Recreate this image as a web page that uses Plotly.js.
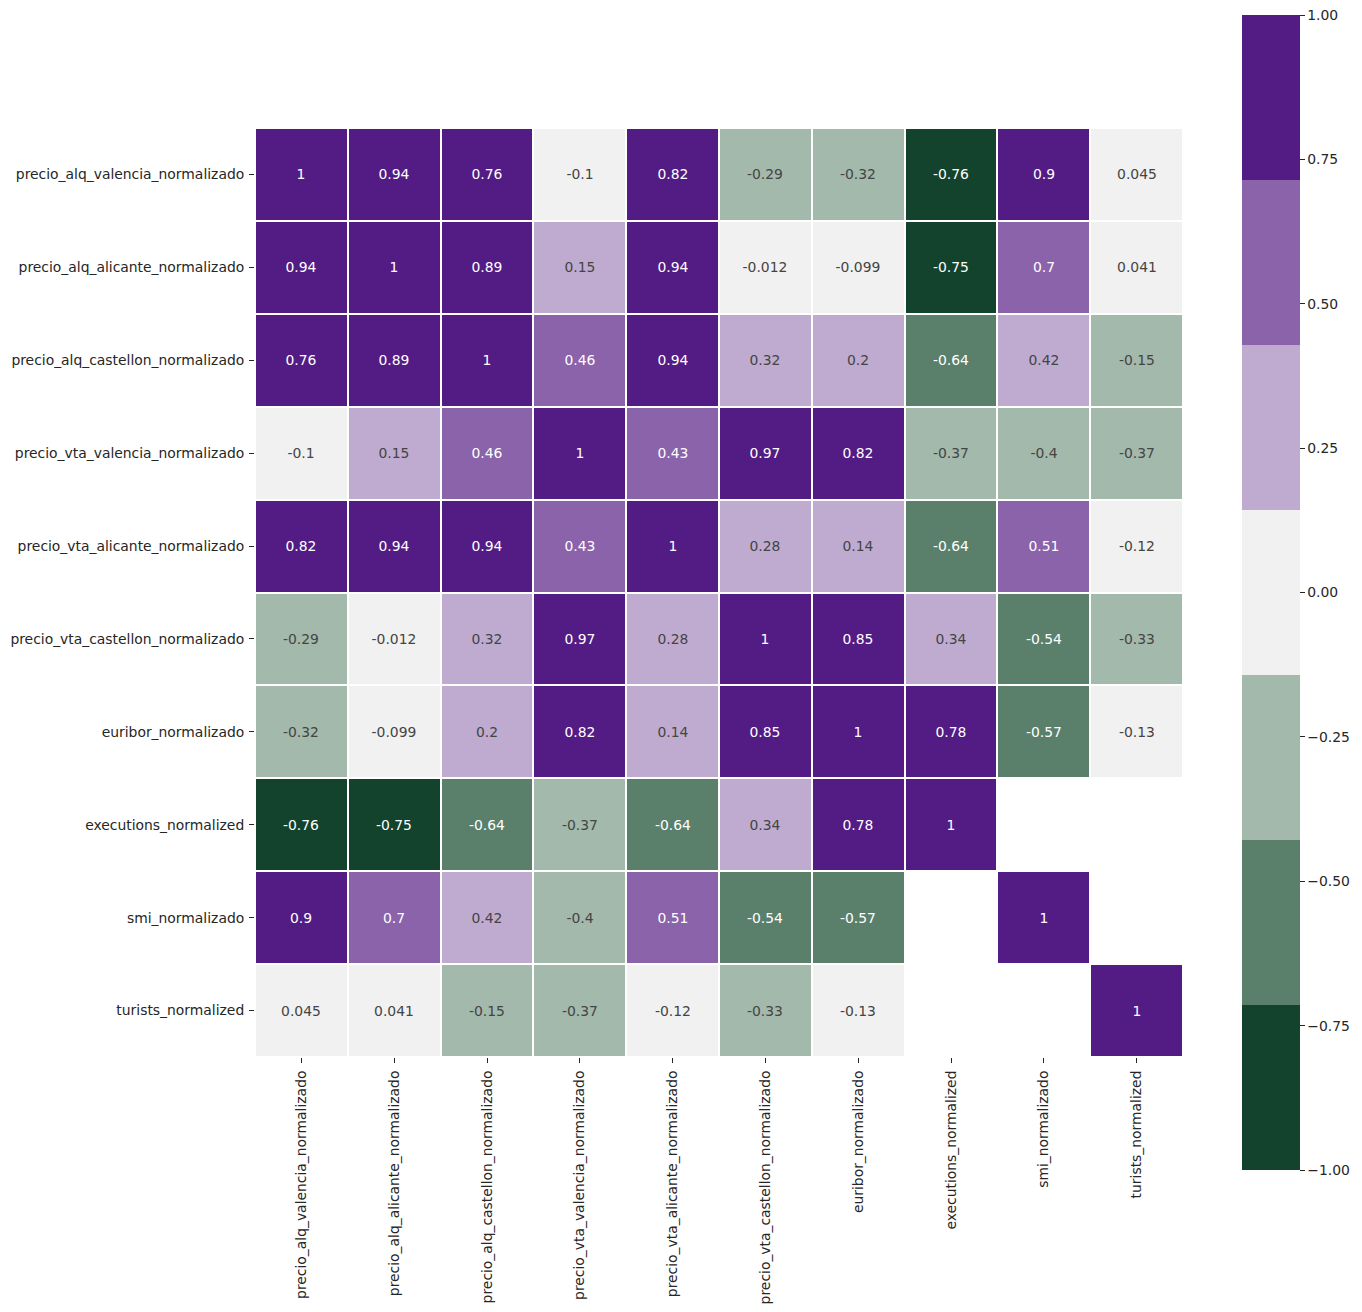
<!DOCTYPE html>
<html>
<head>
<meta charset="utf-8">
<script src="https://cdn.plot.ly/plotly-3.0.1.min.js"></script>
<style>html,body{margin:0;padding:0;background:#fff;}#chart{width:1362px;height:1312px;}</style>
</head>
<body>
<div id="chart"></div>
<script>
const labels = [
  "precio_alq_valencia_normalizado",
  "precio_alq_alicante_normalizado",
  "precio_alq_castellon_normalizado",
  "precio_vta_valencia_normalizado",
  "precio_vta_alicante_normalizado",
  "precio_vta_castellon_normalizado",
  "euribor_normalizado",
  "executions_normalized",
  "smi_normalizado",
  "turists_normalized"
];
const row_alq_valencia   = [1, 0.94, 0.76, -0.1, 0.82, -0.29, -0.32, -0.76, 0.9, 0.045];
const row_alq_alicante   = [0.94, 1, 0.89, 0.15, 0.94, -0.012, -0.099, -0.75, 0.7, 0.041];
const row_alq_castellon  = [0.76, 0.89, 1, 0.46, 0.94, 0.32, 0.2, -0.64, 0.42, -0.15];
const row_vta_valencia   = [-0.1, 0.15, 0.46, 1, 0.43, 0.97, 0.82, -0.37, -0.4, -0.37];
const row_vta_alicante   = [0.82, 0.94, 0.94, 0.43, 1, 0.28, 0.144, -0.64, 0.51, -0.12];
const row_vta_castellon  = [-0.29, -0.012, 0.32, 0.97, 0.28, 1, 0.85, 0.34, -0.54, -0.33];
const row_euribor        = [-0.32, -0.099, 0.2, 0.82, 0.144, 0.85, 1, 0.78, -0.57, -0.13];
const row_executions     = [-0.76, -0.75, -0.64, -0.37, -0.64, 0.34, 0.78, 1, null, null];
const row_smi            = [0.9, 0.7, 0.42, -0.4, 0.51, -0.54, -0.57, null, 1, null];
const row_turists        = [0.045, 0.041, -0.15, -0.37, -0.12, -0.33, -0.13, null, null, 1];
const matrix = [row_alq_valencia, row_alq_alicante, row_alq_castellon, row_vta_valencia,
  row_vta_alicante, row_vta_castellon, row_euribor, row_executions, row_smi, row_turists];

const binColors = ["#13432c", "#5a806c", "#a3b9ab", "#f1f1f1", "#bfabd0", "#8a63aa", "#531c84"];
const colorbarTicks = [-1, -0.75, -0.5, -0.25, 0, 0.25, 0.5, 0.75, 1];

const colorscale = [];
binColors.forEach((c, i) => {
  colorscale.push([i / binColors.length, c]);
  colorscale.push([(i + 1) / binColors.length, c]);
});

const font = {family: "DejaVu Sans, sans-serif", size: 13.9, color: "#262626"};

const trace = {
  type: "heatmap",
  x: labels,
  y: labels,
  z: matrix,
  zmin: -1,
  zmax: 1,
  colorscale: colorscale,
  xgap: 2,
  ygap: 2,
  texttemplate: "%{z:.2~g}",
  textfont: {family: "DejaVu Sans, sans-serif", size: 13.9},
  hoverongaps: false,
  colorbar: {
    x: (1242 - 255) / 928,
    xanchor: "left",
    xref: "paper",
    y: 0.5,
    yanchor: "middle",
    lenmode: "pixels",
    len: 1155,
    thicknessmode: "pixels",
    thickness: 58,
    outlinewidth: 0,
    xpad: 0,
    ypad: 0,
    tickvals: colorbarTicks,
    tickformat: ".2f",
    ticks: "outside",
    ticklen: 5,
    tickwidth: 1,
    tickcolor: "#262626",
    tickfont: font
  }
};

const axisCommon = {
  type: "category",
  showgrid: false,
  zeroline: false,
  showline: false,
  ticks: "outside",
  ticklen: 5,
  tickwidth: 1,
  tickcolor: "#262626",
  ticklabelstandoff: 2,
  tickfont: font
};

const layout = {
  width: 1362,
  height: 1312,
  margin: {l: 255, r: 179, t: 128, b: 255},
  paper_bgcolor: "#fff",
  plot_bgcolor: "#fff",
  xaxis: Object.assign({}, axisCommon, {tickangle: -90, automargin: false}),
  yaxis: Object.assign({}, axisCommon, {autorange: "reversed", automargin: false}),
  showlegend: false
};

Plotly.newPlot("chart", [trace], layout, {displayModeBar: false, staticPlot: true});
</script>
</body>
</html>
